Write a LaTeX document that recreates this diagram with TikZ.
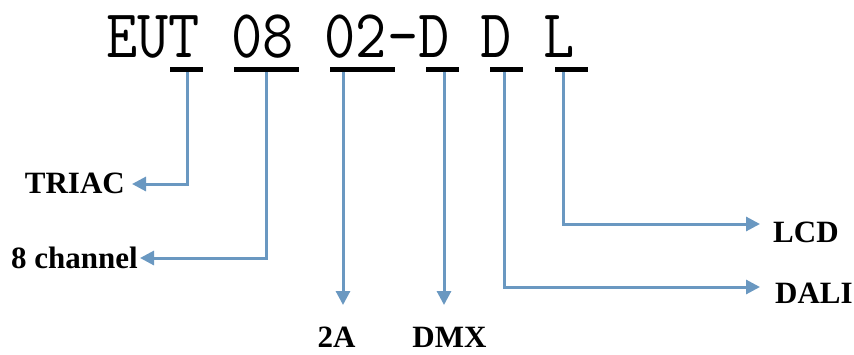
\documentclass[tikz,border=0pt]{standalone}
\usepackage{fontspec}
\setmainfont{Liberation Serif}
\usetikzlibrary{arrows.meta}
\definecolor{conn}{RGB}{106,152,193}
\tikzset{
  bar/.style={fill=black, inner sep=0pt, minimum height=5pt, draw=none},
  lbl/.style={inner sep=0pt, font=\fontsize{31}{31}\selectfont\bfseries},
  arr/.style={draw=conn, line width=3pt, -{Triangle[length=14pt,width=14pt]}},
  code/.style={inner sep=0pt, font=\fontsize{60.6}{60.6}\ttfamily}
}
\begin{document}
\begin{tikzpicture}[x=1pt,y=-1pt]
\useasboundingbox (0,0) rectangle (854,354);
% code text
\node[code, anchor=base west] (code) at (106,57) {\scalebox{1}[1.13]{EUT 08 02-D D L}};
% underline bars
\node[bar, minimum width=33pt] (u1) at (186.5,69.5) {};
\node[bar, minimum width=65pt] (u2) at (266.5,69.5) {};
\node[bar, minimum width=65pt] (u3) at (362.5,69.5) {};
\node[bar, minimum width=33pt] (u4) at (442.5,69.5) {};
\node[bar, minimum width=33pt] (u5) at (506.5,69.5) {};
\node[bar, minimum width=33pt] (u6) at (571.5,69.5) {};
% labels
\node[lbl, anchor=base east] (triac) at (125,193) {TRIAC};
\node[lbl, anchor=base east] (chan) at (138,268) {8 channel};
\node[lbl, anchor=base] (twoa) at (336.5,347) {2A};
\node[lbl, anchor=base] (dmx) at (449.5,347) {DMX};
\node[lbl, anchor=base west] (lcd) at (773,242) {LCD};
\node[lbl, anchor=base west] (dali) at (775,303) {DALI};
% arrow tips
\coordinate (tTriac) at (132,184);
\coordinate (tChan) at (140,258);
\coordinate (tTwo) at (343,305);
\coordinate (tDmx) at (444,305);
\coordinate (tDali) at (760,287);
\coordinate (tLcd) at (760,224);
% connectors
\draw[arr] ([xshift=0.5pt]u1.south) |- (tTriac);
\draw[arr] ([xshift=-0.5pt]u2.south) |- (tChan);
\draw[arr] (u3.south -| tTwo) -- (tTwo);
\draw[arr] (u4.south -| tDmx) -- (tDmx);
\draw[arr] ([xshift=-2.5pt]u5.south) |- (tDali);
\draw[arr] ([xshift=-8.5pt]u6.south) |- (tLcd);
\end{tikzpicture}
\end{document}
